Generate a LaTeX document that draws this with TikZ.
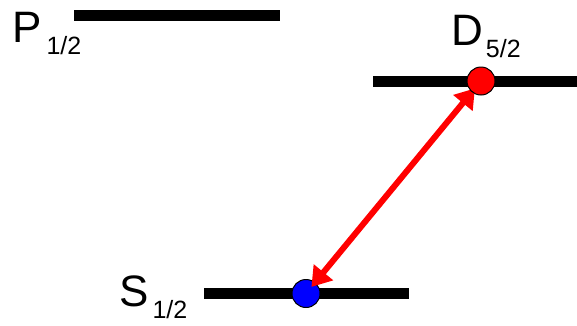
\documentclass[tikz,border=0pt]{standalone}
\usepackage{fontspec}
\setmainfont{Liberation Sans}
\usetikzlibrary{arrows.meta}
\newcommand\lowsub[1]{\raisebox{-12.5pt}{\fontsize{25}{25}\selectfont #1}}
\begin{document}
\begin{tikzpicture}[x=1pt,y=-1pt,
  level/.style={line width=11pt},
  lbl/.style={anchor=base west,inner sep=0pt,font=\fontsize{44}{44}\selectfont},
  atom/.style={circle,draw=black,line width=1pt,minimum size=28pt,inner sep=0pt},
  trans/.style={red,line width=6pt,{Triangle[length=19pt,width=24pt]}-{Triangle[length=19pt,width=24pt]},shorten <=-6pt,shorten >=-5pt}]
\useasboundingbox (0,0) rectangle (577,325);
\coordinate (p1) at (74,15.5); \coordinate (p2) at (280,15.5);
\coordinate (d1) at (373,81); \coordinate (d2) at (577,81);
\coordinate (s1) at (204,293.5); \coordinate (s2) at (409,293.5);
\draw[level] (p1) -- (p2);
\draw[level] (d1) -- (d2);
\draw[level] (s1) -- (s2);
\node[lbl] (lp) at (12,42) {P\hspace{5pt}\lowsub{1/2}};
\node[lbl] (ld) at (451,45) {D\hspace{3pt}\lowsub{5/2}};
\node[lbl] (ls) at (119,306) {S\hspace{4pt}\lowsub{1/2}};
\node[atom,fill=blue] (ss) at (306,293.5) {};
\path (481,81) node[atom,draw=none] (dpos) {};
\draw[trans] (ss) -- (dpos);
\node[atom,fill=red] (dd) at (dpos) {};
\end{tikzpicture}
\end{document}
